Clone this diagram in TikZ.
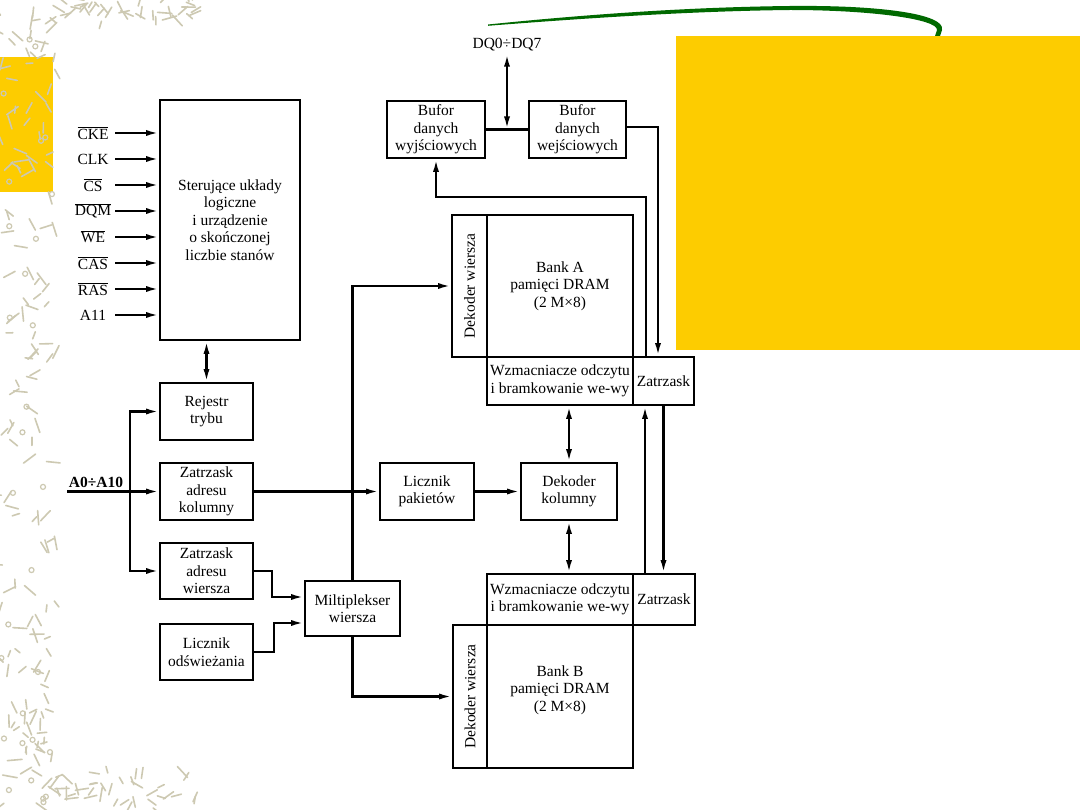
\documentclass[tikz,border=0pt]{standalone}
\usepackage{fontspec}
\setmainfont{Liberation Serif}
\usetikzlibrary{arrows.meta}
\definecolor{slideyellow}{RGB}{253,204,0}
\definecolor{swoosh}{RGB}{0,105,0}
\definecolor{doodle}{RGB}{205,201,178}
\newcommand\ovl[1]{$\overline{\hbox{#1}}$}
\begin{document}
\begin{tikzpicture}[x=1pt,y=-1pt,
  txt/.style={font=\fontsize{15.5}{17.5}\selectfont, align=center, inner sep=1pt},
  box/.style={draw, line width=1.6pt, inner sep=0pt, align=center, font=\fontsize{15.5}{17.5}\selectfont},
  conn/.style={line width=2.3pt},
  arr/.style={conn, -{Latex[length=13pt,width=6pt]}},
  darr/.style={conn, {Latex[length=13pt,width=6pt]}-{Latex[length=13pt,width=6pt]}},
  dood/.style={draw=doodle, line width=1.6pt, line cap=round}]
\useasboundingbox (0,0) rectangle (1080,810);
\fill[white] (0,0) rectangle (1080,810);
% decorative background
\fill[slideyellow] (0,57) rectangle (53,192);
\fill[slideyellow] (676,36) rectangle (1080,350);
\pgfmathsetseed{17}
\foreach \i in {1,...,150}{
  \pgfmathsetmacro\xx{rnd*55}
  \pgfmathsetmacro\yy{rnd*805}
  \pgfmathsetmacro\aa{rnd*360}
  \pgfmathsetmacro\ll{6+rnd*9}
  \draw[dood] (\xx,\yy) -- ++(\aa:\ll);
}
\foreach \i in {1,...,40}{
  \pgfmathsetmacro\xx{55+rnd*145}
  \pgfmathsetmacro\yy{rnd*22}
  \pgfmathsetmacro\aa{rnd*360}
  \pgfmathsetmacro\ll{6+rnd*9}
  \draw[dood] (\xx,\yy) -- ++(\aa:\ll);
}
\foreach \i in {1,...,40}{
  \pgfmathsetmacro\xx{55+rnd*145}
  \pgfmathsetmacro\yy{772+rnd*36}
  \pgfmathsetmacro\aa{rnd*360}
  \pgfmathsetmacro\ll{6+rnd*9}
  \draw[dood] (\xx,\yy) -- ++(\aa:\ll);
}
\foreach \i in {1,...,30}{
  \pgfmathsetmacro\xx{rnd*52}
  \pgfmathsetmacro\yy{rnd*805}
  \draw[dood, line width=1.2pt] (\xx,\yy) circle (2.5);
}
\fill[swoosh] (488,24.5) .. controls (600,13) and (700,7) .. (790,6)
  .. controls (880,5) and (946,14) .. (942,30) -- (940,36) -- (935,36)
  -- (937,30) .. controls (938,19) and (870,10) .. (790,10)
  .. controls (700,11) and (600,17) .. (488,25.8) -- cycle;

% control block
\node[box, minimum width=140, minimum height=240] (ster) at (230,220)
  {Sterujące układy\\logiczne\\i urządzenie\\o skończonej\\liczbie stanów};
\foreach \nm/\lab/\yy in {cke/\ovl{CKE}/133, clk/CLK/159, cs/\ovl{CS}/185, dqm/\ovl{DQM}/211,
    we/\ovl{WE}/237, cas/\ovl{CAS}/263, ras/\ovl{RAS}/289, a11/A11/315}{
  \node[txt] (l\nm) at (93,\yy) {\lab};
  \coordinate (s\nm) at (115,\yy);
  \draw[arr] (s\nm) -- (s\nm -| ster.west);
}

% address path
\node[box, minimum width=93, minimum height=57] (rej) at (206.5,411.5) {Rejestr\\trybu};
\node[box, minimum width=93, minimum height=57] (zk) at (206.5,491.5) {Zatrzask\\adresu\\kolumny};
\node[box, minimum width=93, minimum height=56] (zw) at (206.5,571) {Zatrzask\\adresu\\wiersza};
\node[box, minimum width=93, minimum height=56] (lo) at (206.5,652) {Licznik\\odświeżania};
\node[box, minimum width=95, minimum height=55] (mux) at (352.5,608.5) {Miltiplekser\\wiersza};
\node[box, minimum width=94, minimum height=57] (lp) at (427,491.5) {Licznik\\pakietów};
\node[box, minimum width=96, minimum height=57] (dk) at (569,491.5) {Dekoder\\kolumny};

\draw[darr] (rej.north |- ster.south) -- (rej.north);
\node[txt, font=\fontsize{15.5}{17.5}\selectfont\bfseries] (a0l) at (96,482) {A0÷A10};
\coordinate (a0) at (67,491.5);
\coordinate (br) at (130,491.5);
\draw[arr] (a0) -- (zk.west);
\draw[arr] (br) |- (rej.west);
\draw[arr] (br) |- (zw.west);
\draw[arr] (zk.east) -- (lp.west);
\draw[arr] (lp.east) -- (dk.west);
\draw[arr] (zw.east) -| ([xshift=-32pt,yshift=11.5pt]mux.west) -- ([yshift=11.5pt]mux.west);
\draw[arr] (lo.east) -| ([xshift=-30pt,yshift=-14.5pt]mux.west) -- ([yshift=-14.5pt]mux.west);

% buffers
\node[box, minimum width=98, minimum height=57] (bw) at (436,129.5) {Bufor\\danych\\wyjściowych};
\node[box, minimum width=97, minimum height=57] (bi) at (577.5,129.5) {Bufor\\danych\\wejściowych};
\node[txt, inner sep=2pt] (dq) at (507,45) {DQ0÷DQ7};
\coordinate (dqj) at (507,129.5);
\draw[conn] (bw.east) -- (bi.west);
\draw[darr] (dq.south) -- (dqj);

% bank A
\node[box, minimum width=35, minimum height=142] (dwA) at (469.5,286) {};
\node[txt, rotate=90] (dwAt) at (dwA) {Dekoder wiersza};
\node[box, minimum width=146, minimum height=142] (bankA) at (560,286) {Bank A\\pamięci DRAM\\(2 M×8)};
\node[box, minimum width=146, minimum height=48] (wzA) at (560,381) {Wzmacniacze odczytu\\i bramkowanie we-wy};
\node[box, minimum width=61, minimum height=48] (zA) at (663.5,381) {Zatrzask};

% bank B
\node[box, minimum width=146, minimum height=51] (wzB) at (560,599.5) {Wzmacniacze odczytu\\i bramkowanie we-wy};
\node[box, minimum width=62, minimum height=51] (zB) at (664,599.5) {Zatrzask};
\node[box, minimum width=34, minimum height=143] (dwB) at (470,696.5) {};
\node[txt, rotate=90] (dwBt) at (dwB) {Dekoder wiersza};
\node[box, minimum width=146, minimum height=143] (bankB) at (560,696.5) {};
\node[txt] (bankBt) at (560,690) {Bank B\\pamięci DRAM\\(2 M×8)};

% connections
\draw[arr] (mux.north) |- (dwA.west);
\draw[arr] (mux.south) |- (dwB.west);
\draw[darr] (dk.north) -- (dk.north |- wzA.south);
\draw[darr] (dk.south) -- (dk.south |- wzB.north);
\draw[arr] ([yshift=2.5pt]bi.east) -| ([xshift=-5.5pt]zA.north);
\draw[arr] ([xshift=-17.5pt]zA.north) |- ([yshift=-38pt]bw.south) -- (bw.south);
\draw[arr] ([xshift=-19pt]zB.north) -- ([xshift=-19pt]zB.north |- zA.south);
\draw[arr] (zA.south) -- (zA.south |- zB.north);
\end{tikzpicture}
\end{document}
